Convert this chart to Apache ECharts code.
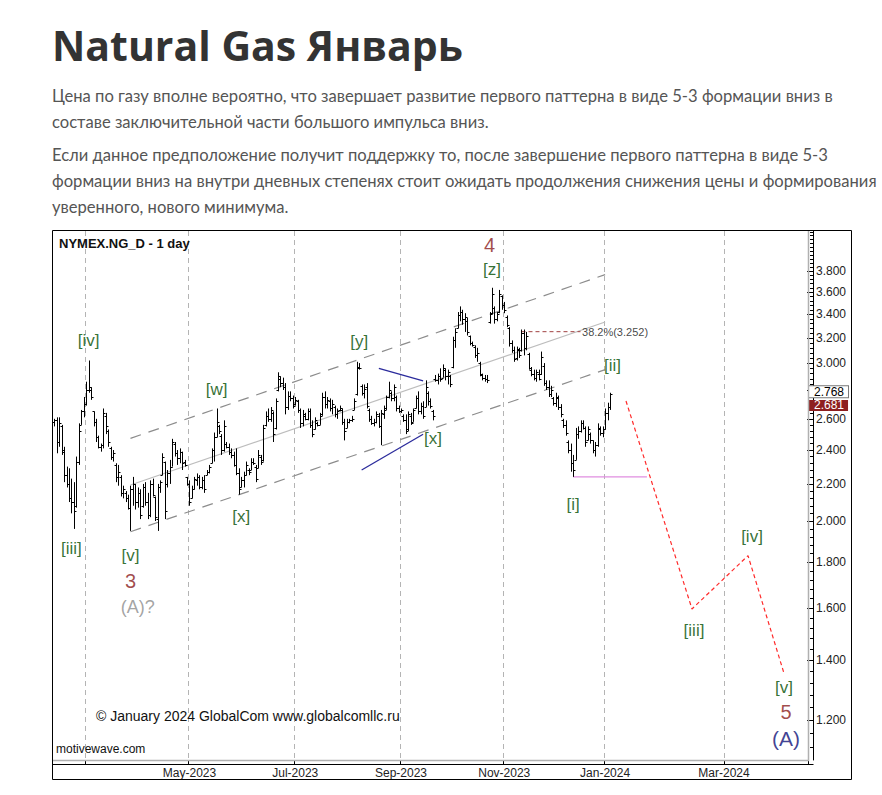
<!DOCTYPE html>
<html><head><meta charset="utf-8">
<script src="https://cdn.jsdelivr.net/npm/echarts@6/dist/echarts.min.js"></script>
<style>
html,body{margin:0;padding:0;background:#fff;width:882px;height:795px;overflow:hidden;}
#title{position:absolute;left:52px;top:15px;margin:0;font-family:"Open Sans";font-weight:700;font-size:41px;color:#333;line-height:60px;white-space:nowrap;}
.p{position:absolute;left:52px;margin:0;font-family:Lato;font-size:16.6px;color:#555;line-height:26px;white-space:nowrap;}
#chart{position:absolute;left:52px;top:230px;width:800px;height:551px;}
</style></head>
<body>
<h1 id="title">Natural Gas Январь</h1>
<p class="p" style="top:83px">Цена по газу вполне вероятно, что завершает развитие первого паттерна в виде 5-3 формации вниз в<br>составе заключительной части большого импульса вниз.</p>
<p class="p" style="top:142px">Если данное предположение получит поддержку то, после завершение первого паттерна в виде 5-3<br>формации вниз на внутри дневных степенях стоит ожидать продолжения снижения цены и формирования<br>уверенного, нового минимума.</p>
<div id="chart"></div>
<script>
// ---------- data ----------
const firstDay = '2023-02-09', lastDay = '2024-01-04';
const holidays = ['2023-02-20','2023-04-07','2023-05-29','2023-06-19','2023-07-04','2023-09-04','2023-11-23','2023-12-25','2024-01-01'];
const futureSlotRange = ['2024-01-05','2024-04-25'];
const gridMonths = ['2023-03','2023-05','2023-07','2023-09','2023-11','2024-01'];
const labelMonths = ['2023-05','2023-07','2023-09','2023-11','2024-01'];
const futureGridDates = ['2024-03-01'];
const futureRange = ['2024-01-06','2024-04-12'];
const priceRange = [1.083, 4.211];
const priceTicks = [1.2,1.4,1.6,1.8,2.0,2.2,2.4,2.6,2.8,3.0,3.2,3.4,3.6,3.8];
const priceLabels = [1.2,1.4,1.6,1.8,2.0,2.2,2.4,2.6,3.0,3.2,3.4,3.6,3.8];
const minorStep = 0.04;

const barOpen = [2.58,2.59,2.45,2.55,2.40,2.25,2.20,2.12,2.10,2.08,2.33,2.56,2.65,2.70,2.80,2.80,2.65,2.58,2.48,2.42,2.43,2.62,2.52,2.41,2.36,2.31,2.24,2.24,2.15,2.15,2.12,2.07,2.17,2.20,2.10,2.15,2.08,2.18,2.10,2.03,2.20,2.13,2.01,2.18,2.25,2.33,2.20,2.26,2.30,2.44,2.38,2.35,2.39,2.33,2.24,2.20,2.12,2.17,2.22,2.24,2.18,2.22,2.25,2.27,2.32,2.40,2.48,2.55,2.49,2.40,2.44,2.42,2.39,2.37,2.31,2.26,2.18,2.22,2.25,2.28,2.28,2.33,2.30,2.29,2.36,2.34,2.56,2.62,2.60,2.64,2.54,2.80,2.88,2.85,2.82,2.68,2.76,2.74,2.70,2.72,2.66,2.57,2.62,2.60,2.65,2.56,2.53,2.57,2.56,2.63,2.75,2.70,2.72,2.67,2.68,2.63,2.66,2.66,2.58,2.54,2.58,2.59,2.66,2.77,2.97,2.83,2.78,2.82,2.66,2.60,2.57,2.58,2.62,2.55,2.63,2.67,2.75,2.78,2.74,2.75,2.67,2.65,2.62,2.59,2.53,2.62,2.58,2.67,2.74,2.65,2.69,2.68,2.78,2.72,2.65,2.88,2.87,2.90,2.89,2.95,2.90,2.90,2.97,3.18,3.28,3.39,3.42,3.36,3.34,3.22,3.16,3.13,3.06,3.00,2.91,2.89,2.88,3.33,3.41,3.46,3.36,3.42,3.56,3.48,3.38,3.28,3.16,3.10,3.04,3.10,3.10,3.24,3.12,3.07,2.95,2.92,2.89,2.92,2.92,2.98,2.85,2.82,2.77,2.74,2.71,2.74,2.68,2.59,2.56,2.45,2.40,2.32,2.34,2.50,2.52,2.57,2.54,2.46,2.50,2.46,2.40,2.43,2.53,2.51,2.53,2.64,2.68];
const barHigh = [2.60,2.61,2.61,2.56,2.42,2.30,2.29,2.23,2.21,2.36,2.57,2.66,2.75,2.86,3.02,2.82,2.65,2.60,2.49,2.44,2.67,2.64,2.53,2.42,2.40,2.32,2.31,2.25,2.19,2.16,2.14,2.19,2.24,2.20,2.18,2.17,2.20,2.21,2.15,2.22,2.23,2.13,2.20,2.22,2.38,2.33,2.28,2.34,2.47,2.45,2.40,2.41,2.39,2.34,2.24,2.22,2.19,2.24,2.26,2.25,2.24,2.25,2.28,2.31,2.41,2.51,2.67,2.56,2.50,2.59,2.45,2.44,2.41,2.39,2.41,2.29,2.24,2.27,2.33,2.29,2.35,2.35,2.31,2.40,2.37,2.56,2.65,2.67,2.68,2.65,2.74,2.93,2.90,2.89,2.85,2.79,2.79,2.76,2.75,2.73,2.67,2.66,2.64,2.67,2.67,2.59,2.61,2.58,2.64,2.78,2.79,2.75,2.74,2.73,2.69,2.67,2.69,2.67,2.60,2.60,2.60,2.62,2.74,3.01,3.00,2.84,2.84,2.85,2.67,2.62,2.60,2.65,2.64,2.66,2.69,2.76,2.86,2.79,2.84,2.76,2.69,2.67,2.63,2.63,2.65,2.64,2.67,2.76,2.79,2.71,2.72,2.87,2.79,2.74,2.66,2.91,2.92,2.96,2.99,2.96,2.95,2.91,3.21,3.28,3.42,3.47,3.44,3.41,3.37,3.22,3.17,3.14,3.12,3.01,2.92,2.91,2.91,3.42,3.64,3.47,3.42,3.62,3.57,3.51,3.39,3.29,3.18,3.13,3.13,3.12,3.27,3.27,3.25,3.08,2.97,2.95,2.95,2.95,3.09,3.00,2.87,2.87,2.83,2.75,2.78,2.76,2.70,2.60,2.59,2.46,2.44,2.37,2.54,2.55,2.59,2.59,2.55,2.55,2.51,2.46,2.45,2.57,2.55,2.55,2.67,2.71,2.78];
const barLow = [2.55,2.38,2.42,2.37,2.21,2.18,2.10,2.04,1.96,2.07,2.31,2.56,2.61,2.69,2.78,2.73,2.55,2.45,2.41,2.39,2.41,2.50,2.42,2.34,2.33,2.21,2.19,2.13,2.12,2.10,2.06,1.95,2.08,2.06,2.07,2.01,2.07,2.08,2.01,2.02,2.13,2.00,1.95,2.15,2.25,2.01,2.18,2.20,2.30,2.36,2.31,2.32,2.28,2.30,2.19,2.08,2.12,2.17,2.19,2.17,2.17,2.15,2.25,2.26,2.32,2.33,2.48,2.50,2.37,2.39,2.41,2.37,2.35,2.30,2.25,2.14,2.18,2.18,2.25,2.25,2.28,2.31,2.21,2.29,2.31,2.33,2.55,2.58,2.58,2.45,2.53,2.79,2.82,2.80,2.63,2.66,2.72,2.67,2.69,2.64,2.54,2.55,2.59,2.59,2.54,2.48,2.53,2.55,2.56,2.62,2.67,2.67,2.65,2.63,2.61,2.60,2.65,2.56,2.46,2.54,2.57,2.58,2.66,2.76,2.95,2.76,2.74,2.67,2.58,2.56,2.55,2.57,2.54,2.43,2.60,2.66,2.74,2.72,2.72,2.65,2.64,2.64,2.58,2.50,2.52,2.56,2.58,2.67,2.63,2.63,2.60,2.68,2.69,2.67,2.59,2.86,2.84,2.86,2.89,2.87,2.84,2.82,2.96,3.12,3.28,3.34,3.31,3.25,3.22,3.14,3.13,3.04,3.01,2.90,2.87,2.86,2.85,3.32,3.40,3.32,3.34,3.41,3.44,3.41,3.29,3.13,3.08,3.01,3.02,3.04,3.09,3.06,3.10,2.95,2.90,2.87,2.86,2.87,2.91,2.83,2.80,2.75,2.75,2.69,2.68,2.66,2.61,2.54,2.49,2.38,2.27,2.24,2.34,2.47,2.51,2.53,2.42,2.46,2.44,2.38,2.36,2.42,2.49,2.48,2.53,2.59,2.66];
const barClose = [2.59,2.45,2.57,2.39,2.25,2.20,2.12,2.10,2.05,2.33,2.52,2.65,2.70,2.80,2.82,2.75,2.58,2.48,2.42,2.43,2.64,2.55,2.45,2.36,2.38,2.24,2.27,2.15,2.17,2.12,2.07,2.17,2.20,2.10,2.15,2.03,2.18,2.10,2.03,2.20,2.14,2.02,2.18,2.21,2.36,2.05,2.26,2.30,2.45,2.38,2.35,2.39,2.32,2.31,2.20,2.10,2.17,2.23,2.24,2.18,2.22,2.17,2.27,2.30,2.40,2.48,2.58,2.52,2.40,2.55,2.42,2.39,2.37,2.31,2.26,2.17,2.22,2.25,2.31,2.27,2.33,2.32,2.23,2.37,2.33,2.54,2.62,2.60,2.66,2.50,2.72,2.90,2.85,2.82,2.68,2.76,2.74,2.69,2.73,2.66,2.57,2.63,2.60,2.65,2.56,2.50,2.59,2.56,2.62,2.75,2.70,2.73,2.67,2.70,2.63,2.65,2.67,2.58,2.52,2.58,2.59,2.60,2.72,2.96,2.96,2.78,2.81,2.69,2.60,2.57,2.58,2.63,2.55,2.64,2.66,2.75,2.80,2.74,2.82,2.67,2.65,2.66,2.59,2.52,2.63,2.57,2.66,2.74,2.65,2.69,2.62,2.82,2.72,2.69,2.62,2.87,2.90,2.88,2.96,2.90,2.93,2.84,3.18,3.25,3.39,3.42,3.36,3.38,3.25,3.16,3.14,3.06,3.08,2.92,2.89,2.88,2.87,3.40,3.58,3.36,3.40,3.58,3.48,3.44,3.31,3.16,3.10,3.03,3.11,3.06,3.24,3.12,3.22,2.96,2.92,2.89,2.93,2.88,3.05,2.85,2.82,2.77,2.80,2.71,2.75,2.68,2.63,2.56,2.51,2.40,2.32,2.28,2.50,2.52,2.57,2.54,2.45,2.53,2.46,2.40,2.43,2.54,2.51,2.53,2.64,2.681,2.768];

// channel (bar index, price)
const channelIdx = [31, 224];
const channelUpper = [2.473, 3.765];
const channelMiddle = [2.194, 3.334];
const channelLower = [1.946, 2.950];
const blueUpperIdx = [132, 150], blueUpper = [2.960, 2.867];
const blueLowerIdx = [125, 150], blueLower = [2.280, 2.499];
const fibIdx = [190, 214], fibRatio = 0.382, fibPrice = 3.252;
const waveILowIdx = 211, waveILow = 2.24, waveILineEnd = '2024-01-25';
// projected path
const projDates = ['2024-01-12','2024-02-14','2024-03-13','2024-03-31'];
const projPrices = [2.722, 1.596, 1.830, 1.353];
// price tags
const tagValues = [2.768, 2.681];
// wave labels on bars
const waveText = ['4','[z]','[y]','[w]','[iv]','[iii]','[v]','3','(A)?','[x]','[x]','[ii]','[i]'];
const waveIdx = [177,178,124,66,14,7,31,31,34,76,154,227,211];
const wavePrice = [4.063,3.810,3.175,2.80,3.183,1.866,1.833,1.715,1.604,2.021,2.475,2.978,2.089];
const waveKind = ['deg','minor','minor','minor','minor','minor','minor','deg','alt','minor','minor','minor','minor'];
// wave labels on projection
const projText = ['[iii]','[iv]','[v]','5','(A)'];
const projLabelDates = ['2024-02-15','2024-03-15','2024-03-31','2024-04-01','2024-04-01'];
const projLabelPrice = [1.512,1.920,1.303,1.225,1.143];
const projKind = ['minor','minor','minor','deg','major'];

// ---------- build ----------
const L = Math.log;
const utc = s => Date.UTC(+s.slice(0,4), +s.slice(5,7)-1, +s.slice(8,10));
function weekdays(from,to,skip){
  const out=[]; let t=utc(from); const end=utc(to);
  while(t<=end){const d=new Date(t);const w=d.getUTCDay();const s=d.toISOString().slice(0,10);
    if(w!==0&&w!==6&&!skip.includes(s)) out.push(s); t+=86400000;}
  return out;
}
const categories = weekdays(firstDay,lastDay,holidays).concat(weekdays(futureSlotRange[0],futureSlotRange[1],[]));
const gridSet=new Set(), labelSet=new Set();
categories.forEach((d,i)=>{ const ym=d.slice(0,7);
  if(i>0 && categories[i-1].slice(0,7)!==ym){ if(gridMonths.includes(ym)) gridSet.add(i); if(labelMonths.includes(ym)) labelSet.add(i);} });
const MN=['Jan','Feb','Mar','Apr','May','Jun','Jul','Aug','Sep','Oct','Nov','Dec'];
const monthLabel = s => MN[+s.slice(5,7)-1]+'-'+s.slice(0,4);
const yMin=L(priceRange[0]), yMax=L(priceRange[1]);
const minorVals=[]; for(let k=Math.ceil(priceRange[0]/minorStep);k*minorStep<=priceRange[1];k++){minorVals.push(L(k*minorStep));}

const styles = {
  minor:{color:'#004d00',fontSize:17},
  deg:{color:'#8a1c1c',fontSize:20},
  alt:{color:'#8c8c8c',fontSize:18},
  major:{color:'#0f0f78',fontSize:21}
};
const FONT='"Liberation Sans", Arial, sans-serif';
function lbl(text,kind){const s=styles[kind];return {show:true,position:'inside',formatter:text,color:s.color,fontSize:s.fontSize,fontFamily:FONT};}

const ohlc = barClose.map((c,i)=>[i,L(barOpen[i]),L(barHigh[i]),L(barLow[i]),L(c)]);
const axisTxt={color:'#222',fontSize:12,fontFamily:FONT};
const dashGrid={show:true,lineStyle:{color:'#b4b4b4',width:1,type:[5,4]}};
const endIdx = categories.indexOf(waveILineEnd);
const tagStyles = [
  {color:'#000',backgroundColor:'#fff',borderColor:'#777',borderWidth:1,offset:[0,-2]},
  {color:'#fff',backgroundColor:'#8e1f1f',borderWidth:0,offset:[0,0]}
];

const option={
  animation:false,
  grid:[{left:1,top:1,width:755,height:529},{left:562,top:1,width:194,height:529}],
  xAxis:[
    {gridIndex:0,type:'category',data:categories,boundaryGap:true,offset:4,
     axisLine:{lineStyle:{color:'#000',width:1}},
     axisTick:{show:true,inside:true,length:4,interval:(i)=>gridSet.has(i),lineStyle:{color:'#000'}},
     axisLabel:{interval:(i)=>labelSet.has(i),formatter:v=>monthLabel(v),margin:3,...axisTxt},
     splitLine:{...dashGrid,interval:(i)=>gridSet.has(i)}},
    {gridIndex:1,type:'value',min:utc(futureRange[0]),max:utc(futureRange[1]),offset:4,
     axisLine:{show:false},
     axisTick:{show:true,inside:true,length:4,customValues:futureGridDates.map(utc),lineStyle:{color:'#000'}},
     axisLabel:{customValues:futureGridDates.map(utc),formatter:v=>monthLabel(new Date(v).toISOString()),margin:3,...axisTxt},
     splitLine:dashGrid}
  ],
  yAxis:[
    {gridIndex:0,type:'value',min:yMin,max:yMax,show:false,splitLine:{show:false}},
    {gridIndex:1,type:'value',min:yMin,max:yMax,position:'right',offset:5,
     axisLine:{show:true,lineStyle:{color:'#000',width:1}},
     axisTick:{show:true,inside:true,length:6,customValues:priceTicks.map(L),lineStyle:{color:'#000'}},
     axisLabel:{customValues:priceLabels.map(L),formatter:v=>Math.exp(v).toFixed(3),margin:3,...axisTxt},
     splitLine:{show:false}},
    {gridIndex:1,type:'value',min:yMin,max:yMax,position:'right',offset:5,
     axisLine:{show:false},axisTick:{show:true,inside:true,length:3,customValues:minorVals,lineStyle:{color:'#000'}},
     axisLabel:{show:false},splitLine:{show:false}}
  ],
  series:[
    {type:'line',xAxisIndex:0,yAxisIndex:0,symbol:'none',data:channelIdx.map((x,k)=>[x,L(channelUpper[k])]),lineStyle:{color:'#8c8c8c',width:1.2,type:[11,8]},z:3},
    {type:'line',xAxisIndex:0,yAxisIndex:0,symbol:'none',data:channelIdx.map((x,k)=>[x,L(channelMiddle[k])]),lineStyle:{color:'#bdbdbd',width:1.2},z:3},
    {type:'line',xAxisIndex:0,yAxisIndex:0,symbol:'none',data:channelIdx.map((x,k)=>[x,L(channelLower[k])]),lineStyle:{color:'#8c8c8c',width:1.2,type:[11,8]},z:3},
    {type:'line',xAxisIndex:0,yAxisIndex:0,symbol:'none',data:blueUpperIdx.map((x,k)=>[x,L(blueUpper[k])]),lineStyle:{color:'#2b2b9c',width:1.3},z:4},
    {type:'line',xAxisIndex:0,yAxisIndex:0,symbol:'none',data:blueLowerIdx.map((x,k)=>[x,L(blueLower[k])]),lineStyle:{color:'#2b2b9c',width:1.3},z:4},
    {type:'line',xAxisIndex:0,yAxisIndex:0,symbol:'none',data:fibIdx.map(x=>[x,L(fibPrice)]),lineStyle:{color:'#a04040',width:1,type:[4,3]},z:4},
    {type:'line',xAxisIndex:0,yAxisIndex:0,symbol:'none',data:[[waveILowIdx,L(waveILow)],[endIdx,L(waveILow)]],lineStyle:{color:'#e08ee0',width:1.2},z:4},
    {type:'custom',xAxisIndex:0,yAxisIndex:0,data:ohlc,encode:{x:0,y:[1,2,3,4]},z:5,
     renderItem:function(params,api){
       const i=api.value(0);
       const pO=api.coord([i,api.value(1)]),pH=api.coord([i,api.value(2)]),pL=api.coord([i,api.value(3)]),pC=api.coord([i,api.value(4)]);
       const x=Math.round(pH[0])+0.5; const st={stroke:'#000',lineWidth:1};
       const yo=Math.round(pO[1])+0.5, yc=Math.round(pC[1])+0.5;
       return {type:'group',children:[
         {type:'line',shape:{x1:x,y1:pH[1],x2:x,y2:pL[1]},style:st},
         {type:'line',shape:{x1:x-2,y1:yo,x2:x,y2:yo},style:st},
         {type:'line',shape:{x1:x,y1:yc,x2:x+2,y2:yc},style:st}]};
     }},
    {type:'line',xAxisIndex:1,yAxisIndex:1,symbol:'none',data:projDates.map((d,k)=>[utc(d),L(projPrices[k])]),lineStyle:{color:'#ff2a2a',width:1.2,type:[4,3]},z:4,
     markLine:{silent:true,symbol:['none','none'],lineStyle:{color:'rgba(0,0,0,0)',width:0},animation:false,
       data:tagValues.map((v,k)=>({yAxis:L(v),label:{show:true,position:'end',distance:1,formatter:v.toFixed(3),fontSize:12,lineHeight:11,fontFamily:FONT,
          padding:[0,4,0,5],...tagStyles[k]}}))}},
    {type:'scatter',xAxisIndex:0,yAxisIndex:0,symbolSize:1,itemStyle:{color:'rgba(0,0,0,0)'},z:6,
     data:waveText.map((t,k)=>({value:[waveIdx[k],L(wavePrice[k])],label:lbl(t,waveKind[k])}))},
    {type:'scatter',xAxisIndex:1,yAxisIndex:1,symbolSize:1,itemStyle:{color:'rgba(0,0,0,0)'},z:6,
     data:projText.map((t,k)=>({value:[utc(projLabelDates[k]),L(projLabelPrice[k])],label:lbl(t,projKind[k])}))},
    {type:'scatter',xAxisIndex:0,yAxisIndex:0,symbolSize:1,itemStyle:{color:'rgba(0,0,0,0)'},z:6,
     data:[{value:[fibIdx[1],L(fibPrice)],label:{show:true,position:'right',distance:1,formatter:(fibRatio*100).toFixed(1)+'%('+fibPrice.toFixed(3)+')',fontSize:11,color:'#111',fontFamily:FONT}}]}
  ],
  graphic:[
    {type:'rect',shape:{x:0.5,y:0.5,width:799,height:549},style:{fill:'none',stroke:'#000',lineWidth:1},z:100},
    {type:'line',shape:{x1:756.5,y1:1,x2:756.5,y2:531},style:{stroke:'#b0b0b0',lineWidth:1.5},z:90},
    {type:'line',shape:{x1:1,y1:530.5,x2:757,y2:530.5},style:{stroke:'#b0b0b0',lineWidth:1.5},z:90},
    {type:'line',shape:{x1:755,y1:534.5,x2:761.5,y2:534.5},style:{stroke:'#000',lineWidth:1},z:90},
    {type:'text',x:7,y:13,style:{text:'NYMEX.NG_D - 1 day',font:'bold 13px "Liberation Sans", Arial',fill:'#111',verticalAlign:'middle'},z:100},
    {type:'text',x:44,y:486,style:{text:'© January 2024 GlobalCom www.globalcomllc.ru',font:'14px "Liberation Sans", Arial',fill:'#111',verticalAlign:'middle'},z:100},
    {type:'text',x:4,y:519,style:{text:'motivewave.com',font:'12px "Liberation Sans", Arial',fill:'#111',verticalAlign:'middle'},z:100}
  ]
};
const chart=echarts.init(document.getElementById('chart'),null,{renderer:'svg'});
chart.setOption(option);
</script>
</body></html>
